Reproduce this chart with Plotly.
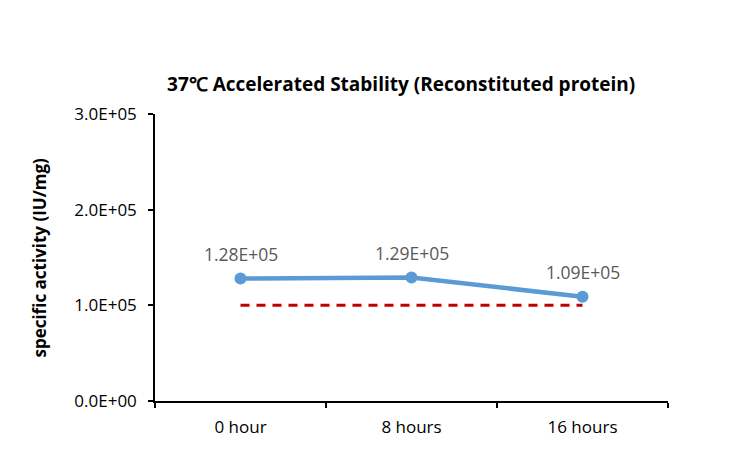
import plotly.graph_objects as go

categories = ["0 hour", "8 hours", "16 hours"]
activity = [1.28e5, 1.29e5, 1.09e5]
activity_labels = ["1.28E+05", "1.29E+05", "1.09E+05"]
threshold = [1.0e5, 1.0e5, 1.0e5]
y_tickvals = [0, 1e5, 2e5, 3e5]
y_ticktext = ["0.0E+00", "1.0E+05", "2.0E+05", "3.0E+05"]

font_family = "Open Sans, sans-serif"

fig = go.Figure()
fig.add_trace(go.Scatter(
    x=categories, y=threshold, mode="lines",
    line=dict(color="#C00000", width=3, dash="9px,7px"),
    hoverinfo="skip", showlegend=False,
))
fig.add_trace(go.Scatter(
    x=categories, y=activity, mode="lines+markers",
    line=dict(color="#5B9BD5", width=4.5),
    marker=dict(color="#5B9BD5", size=12),
    showlegend=False,
))

annotations = [dict(
    text="<b>specific activity (IU/mg)</b>", textangle=-90,
    xref="paper", yref="paper", x=-0.226, y=0.5,
    xanchor="center", yanchor="middle", showarrow=False,
    font=dict(size=17, color="#000000", family=font_family),
)]
for c, v, lab in zip(categories, activity, activity_labels):
    annotations.append(dict(
        x=c, y=v, xref="x", yref="y", text=lab, showarrow=False,
        xanchor="center", yanchor="middle", yshift=25,
        font=dict(size=17.5, color="#595959", family=font_family),
    ))

fig.update_layout(
    width=739, height=442,
    paper_bgcolor="white", plot_bgcolor="white",
    margin=dict(l=147, r=79, t=106, b=49),
    font=dict(family=font_family, color="#000000"),
    title=dict(
        text="<b>37℃ Accelerated Stability (Reconstituted protein)</b>",
        x=0.532, xanchor="center", y=0.828, yanchor="middle",
        font=dict(size=19, color="#000000", family=font_family),
    ),
    showlegend=False,
    annotations=annotations,
)
fig.update_xaxes(
    type="category", showline=True, linecolor="#000000", linewidth=1.5,
    ticks="outside", tickson="boundaries", ticklen=5, tickcolor="#000000", tickwidth=1.5,
    ticklabelstandoff=10,
    showgrid=False, zeroline=False, automargin=False,
    tickfont=dict(size=17, color="#000000", family=font_family),
    range=[-0.5, 2.5],
)
fig.update_yaxes(
    range=[0, 3e5], tickmode="array", tickvals=y_tickvals, ticktext=y_ticktext,
    showline=True, linecolor="#000000", linewidth=1.5,
    ticks="outside", ticklen=5, tickcolor="#000000", tickwidth=1.5,
    ticklabelstandoff=8,
    showgrid=False, zeroline=False, automargin=False,
    tickfont=dict(size=17, color="#000000", family=font_family),
)

fig.write_html("out.html")
